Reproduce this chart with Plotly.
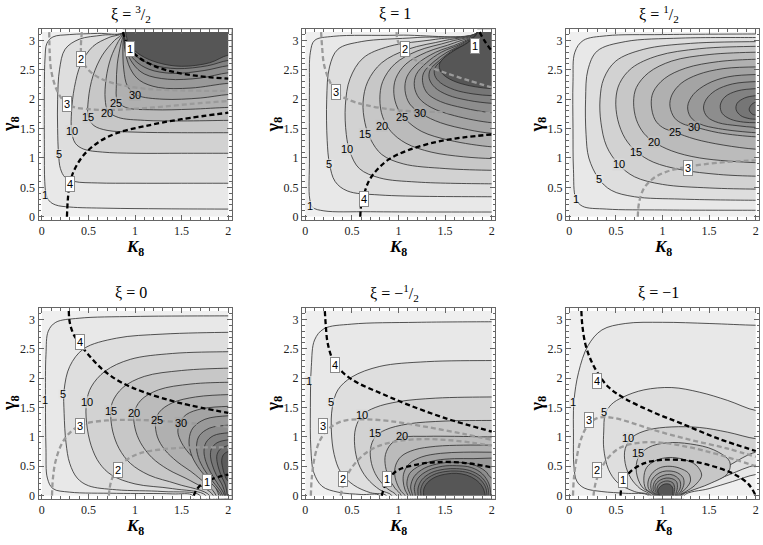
import plotly.graph_objects as go

P = 3.1416

# ---------------- data (K8, gamma8) ----------------
titles = ["ξ = <sup>3</sup>/<sub>2</sub>", "ξ = 1", "ξ = <sup>1</sup>/<sub>2</sub>",
          "ξ = 0", "ξ = −<sup>1</sup>/<sub>2</sub>", "ξ = −1"]
k_ticks = [0, 0.5, 1, 1.5, 2]
k_ticktext = ["0", "0.5", "1", "1.5", "2"]
g_ticks = [0, 0.5, 1, 1.5, 2, 2.5, 3]
g_ticktext = ["0", "0.5", "1", "1.5", "2", "2.5", "3"]

# panel 1, xi = 3/2
p1_contours = {
    1: [(0.88, P), (0.6, 3.12), (0.3, 3.10), (0.12, 3.06), (0.055, 2.95), (0.035, 2.7), (0.028, 2.2), (0.028, 1.2),
        (0.032, 0.6), (0.045, 0.4), (0.08, 0.27), (0.15, 0.2), (0.3, 0.165), (0.7, 0.145), (1.3, 0.135), (2.0, 0.13)],
    5: [(0.88, P), (0.65, 3.09), (0.4, 3.02), (0.25, 2.85), (0.19, 2.5), (0.17, 2.0), (0.17, 1.5), (0.18, 1.07),
        (0.2, 0.82), (0.25, 0.67), (0.35, 0.6), (0.6, 0.575), (1.0, 0.57), (1.5, 0.57), (2.0, 0.57)],
    10: [(0.88, P), (0.72, 3.05), (0.55, 2.9), (0.42, 2.6), (0.35, 2.2), (0.32, 1.8), (0.32, 1.46), (0.36, 1.25),
         (0.45, 1.15), (0.65, 1.1), (1.0, 1.08), (1.5, 1.08), (2.0, 1.08)],
    15: [(0.88, P), (0.78, 3.0), (0.65, 2.75), (0.55, 2.4), (0.5, 2.0), (0.5, 1.69), (0.56, 1.55), (0.7, 1.47),
         (1.0, 1.44), (1.5, 1.43), (2.0, 1.43)],
    20: [(0.88, P), (0.82, 2.98), (0.74, 2.7), (0.69, 2.35), (0.68, 2.0), (0.71, 1.8), (0.82, 1.69), (1.1, 1.64),
         (1.5, 1.63), (2.0, 1.64)],
    25: [(0.88, P), (0.85, 2.95), (0.81, 2.6), (0.8, 2.25), (0.81, 1.98), (0.9, 1.86), (1.2, 1.82), (1.6, 1.83),
         (2.0, 1.86)],
    30: [(0.88, P), (0.87, 2.9), (0.88, 2.5), (0.92, 2.22), (1.02, 2.07), (1.3, 2.0), (1.7, 2.02), (2.0, 2.08)],
    35: [(0.88, P), (0.89, 2.85), (0.95, 2.52), (1.05, 2.32), (1.25, 2.2), (1.6, 2.19), (2.0, 2.27)],
    40: [(0.88, P), (0.9, 2.86), (0.98, 2.6), (1.1, 2.43), (1.35, 2.34), (1.7, 2.36), (2.0, 2.45)],
    45: [(0.88, P), (0.91, 2.88), (1.0, 2.66), (1.15, 2.51), (1.4, 2.44), (1.75, 2.49), (2.0, 2.57)],
    50: [(0.88, P), (0.92, 2.9), (1.03, 2.71), (1.2, 2.58), (1.45, 2.52), (1.78, 2.57), (2.0, 2.66)],
    55: [(0.9, P), (0.94, 2.93), (1.06, 2.75), (1.25, 2.62), (1.5, 2.56), (1.8, 2.62), (2.0, 2.75)],
}
p1_clabels = {1: (0.036, 0.37), 5: (0.18, 1.07), 10: (0.32, 1.46), 15: (0.5, 1.69), 20: (0.70, 1.77),
              25: (0.80, 1.94), 30: (1.0, 2.07)}
p1_dashed = {
    "1": [(0.87, P), (0.9, 3.0), (0.95, 2.85), (1.05, 2.7), (1.2, 2.57), (1.4, 2.47), (1.7, 2.39), (2.0, 2.35)],
    "2": [(0.43, P), (0.42, 2.9), (0.43, 2.68), (0.5, 2.5), (0.62, 2.36), (0.8, 2.26), (1.1, 2.18), (1.5, 2.15),
          (2.0, 2.14)],
    "3": [(0.08, P), (0.085, 2.8), (0.1, 2.5), (0.15, 2.2), (0.22, 2.0), (0.32, 1.88), (0.5, 1.83), (0.8, 1.82),
          (1.2, 1.86), (1.6, 1.92), (2.0, 1.97)],
    "4": [(0.27, 0), (0.28, 0.3), (0.3, 0.56), (0.35, 0.8), (0.45, 1.05), (0.6, 1.26), (0.8, 1.42), (1.1, 1.54),
          (1.5, 1.66), (2.0, 1.77)],
}
p1_dlabels = {"1": (0.95, 2.85), "2": (0.42, 2.68), "3": (0.27, 1.92), "4": (0.3, 0.56)}

# panel 2, xi = 1
p2_contours = {
    1: [(1.85, P), (1.0, 3.09), (0.3, 3.07), (0.1, 3.0), (0.055, 2.8), (0.045, 2.2), (0.045, 1.0), (0.048, 0.3),
        (0.08, 0.16), (0.2, 0.1), (0.7, 0.085), (2.0, 0.08)],
    5: [(1.85, P), (1.2, 3.05), (0.6, 2.98), (0.35, 2.85), (0.26, 2.55), (0.23, 2.0), (0.235, 1.3), (0.26, 0.9),
        (0.32, 0.6), (0.45, 0.44), (0.8, 0.37), (2.0, 0.34)],
    10: [(1.85, P), (1.4, 3.02), (0.9, 2.9), (0.62, 2.7), (0.48, 2.35), (0.43, 1.9), (0.44, 1.4), (0.48, 1.1),
         (0.58, 0.82), (0.8, 0.66), (1.2, 0.59), (2.0, 0.56)],
    15: [(1.85, P), (1.5, 3.0), (1.1, 2.85), (0.82, 2.62), (0.67, 2.3), (0.62, 1.95), (0.64, 1.6), (0.7, 1.32),
         (0.82, 1.06), (1.05, 0.9), (1.5, 0.82), (2.0, 0.79)],
    20: [(1.85, P), (1.55, 2.98), (1.2, 2.82), (0.96, 2.6), (0.83, 2.3), (0.8, 2.0), (0.83, 1.7), (0.92, 1.45),
         (1.08, 1.25), (1.35, 1.1), (1.7, 1.02), (2.0, 0.99)],
    25: [(1.85, P), (1.6, 2.96), (1.3, 2.8), (1.08, 2.6), (0.97, 2.35), (0.95, 2.1), (0.99, 1.85), (1.08, 1.65),
         (1.25, 1.45), (1.55, 1.3), (2.0, 1.19)],
    30: [(1.85, P), (1.65, 2.95), (1.4, 2.8), (1.2, 2.6), (1.09, 2.38), (1.07, 2.15), (1.12, 1.92), (1.25, 1.75),
         (1.45, 1.6), (1.75, 1.48), (2.0, 1.42)],
    35: [(1.85, P), (1.68, 2.95), (1.46, 2.8), (1.3, 2.62), (1.19, 2.42), (1.17, 2.22), (1.22, 2.02), (1.35, 1.86),
         (1.6, 1.72), (2.0, 1.6)],
    40: [(1.85, P), (1.7, 2.95), (1.52, 2.8), (1.38, 2.64), (1.27, 2.45), (1.26, 2.28), (1.31, 2.1), (1.45, 1.96),
         (1.7, 1.85), (2.0, 1.77)],
    45: [(1.85, P), (1.72, 2.95), (1.57, 2.82), (1.44, 2.66), (1.34, 2.5), (1.33, 2.35), (1.39, 2.2), (1.53, 2.07),
         (1.75, 1.98), (2.0, 1.93)],
    50: [(1.85, P), (1.74, 2.96), (1.6, 2.83), (1.48, 2.68), (1.39, 2.53), (1.39, 2.4), (1.45, 2.28), (1.6, 2.16),
         (1.8, 2.09), (2.0, 2.06)],
    55: [(1.85, P), (1.75, 2.97), (1.62, 2.85), (1.5, 2.72), (1.44, 2.6), (1.45, 2.48), (1.52, 2.37), (1.66, 2.27),
         (1.83, 2.21), (2.0, 2.18)],
}
p2_clabels = {1: (0.046, 0.19), 5: (0.257, 0.9), 10: (0.45, 1.15), 15: (0.64, 1.41), 20: (0.82, 1.55),
              25: (1.04, 1.69), 30: (1.23, 1.77)}
p2_dashed = {
    "1": [(1.87, P), (1.92, 3.0), (2.0, 2.82)],
    "2": [(0.98, P), (0.99, 3.0), (1.05, 2.85), (1.15, 2.7), (1.3, 2.57), (1.5, 2.45), (1.75, 2.32), (2.0, 2.2)],
    "3": [(0.17, P), (0.18, 2.9), (0.2, 2.6), (0.25, 2.35), (0.33, 2.12), (0.45, 2.0), (0.65, 1.9), (1.0, 1.81),
          (1.5, 1.78), (2.0, 1.77)],
    "4": [(0.59, 0), (0.6, 0.2), (0.625, 0.35), (0.68, 0.6), (0.77, 0.8), (0.9, 0.98), (1.1, 1.13), (1.4, 1.27),
          (1.7, 1.35), (2.0, 1.4)],
}
p2_dlabels = {"1": (1.82, 2.9), "2": (1.07, 2.85), "3": (0.33, 2.12), "4": (0.625, 0.31)}

# panel 3, xi = 1/2
p3_contours = {
    1: [(2.0, 3.11), (1.0, 3.1), (0.4, 3.08), (0.15, 3.0), (0.06, 2.8), (0.04, 2.3), (0.04, 1.5), (0.045, 0.8),
        (0.07, 0.31), (0.14, 0.18), (0.4, 0.13), (1.0, 0.115), (2.0, 0.11)],
    5: [(2.0, 3.05), (1.2, 3.04), (0.6, 2.98), (0.3, 2.82), (0.2, 2.5), (0.175, 2.0), (0.18, 1.4), (0.21, 1.0),
        (0.315, 0.65), (0.45, 0.45), (0.7, 0.34), (1.2, 0.3), (2.0, 0.28)],
    10: [(2.0, 2.98), (1.3, 2.95), (0.8, 2.85), (0.5, 2.65), (0.37, 2.35), (0.33, 2.0), (0.34, 1.6), (0.4, 1.2),
         (0.53, 0.89), (0.7, 0.68), (1.0, 0.55), (1.5, 0.49), (2.0, 0.47)],
    15: [(2.0, 2.9), (1.4, 2.86), (0.95, 2.74), (0.67, 2.53), (0.54, 2.27), (0.5, 2.0), (0.52, 1.65), (0.6, 1.33),
         (0.72, 1.11), (0.9, 0.93), (1.2, 0.8), (1.6, 0.72), (2.0, 0.69)],
    20: [(2.0, 2.8), (1.5, 2.76), (1.1, 2.65), (0.85, 2.45), (0.72, 2.2), (0.69, 1.95), (0.72, 1.65), (0.8, 1.42),
         (0.91, 1.27), (1.1, 1.12), (1.4, 1.0), (2.0, 0.92)],
    25: [(2.0, 2.68), (1.6, 2.64), (1.25, 2.53), (1.02, 2.35), (0.9, 2.12), (0.88, 1.9), (0.92, 1.65), (1.0, 1.52),
         (1.13, 1.44), (1.35, 1.32), (1.65, 1.22), (2.0, 1.15)],
    30: [(2.0, 2.55), (1.65, 2.52), (1.38, 2.42), (1.2, 2.27), (1.1, 2.07), (1.08, 1.88), (1.13, 1.68), (1.22, 1.58),
         (1.34, 1.53), (1.6, 1.43), (2.0, 1.36)],
    35: [(2.0, 2.42), (1.7, 2.38), (1.48, 2.26), (1.33, 2.08), (1.27, 1.88), (1.3, 1.7), (1.4, 1.58), (1.6, 1.5),
         (2.0, 1.43)],
    40: [(2.0, 2.3), (1.75, 2.26), (1.57, 2.15), (1.47, 2.0), (1.44, 1.85), (1.48, 1.7), (1.6, 1.6), (1.8, 1.55),
         (2.0, 1.52)],
    45: [(2.0, 2.18), (1.8, 2.14), (1.67, 2.04), (1.62, 1.9), (1.64, 1.76), (1.73, 1.66), (1.87, 1.61), (2.0, 1.6)],
    50: [(2.0, 2.06), (1.88, 2.02), (1.8, 1.93), (1.79, 1.82), (1.84, 1.72), (1.93, 1.67), (2.0, 1.66)],
    55: [(2.0, 1.95), (1.95, 1.9), (1.93, 1.82), (1.96, 1.75), (2.0, 1.73)],
}
p3_clabels = {1: (0.07, 0.31), 5: (0.315, 0.65), 10: (0.53, 0.89), 15: (0.72, 1.11), 20: (0.91, 1.27),
              25: (1.13, 1.44), 30: (1.34, 1.53)}
p3_dashed = {
    "3": [(0.735, 0), (0.75, 0.25), (0.8, 0.48), (0.9, 0.65), (1.05, 0.77), (1.27, 0.85), (1.6, 0.92), (2.0, 0.96)],
}
p3_dlabels = {"3": (1.27, 0.83)}

# panel 4, xi = 0
p4_contours = {
    1: [(2.0, 3.06), (1.0, 3.05), (0.4, 3.02), (0.15, 2.95), (0.07, 2.8), (0.045, 2.4), (0.04, 1.62), (0.045, 0.8),
        (0.06, 0.3), (0.12, 0.12), (0.3, 0.06), (0.8, 0.04), (1.4, 0.03), (1.62, 0)],
    5: [(2.0, 2.78), (1.3, 2.75), (0.8, 2.68), (0.45, 2.5), (0.3, 2.2), (0.24, 1.8), (0.24, 1.4), (0.26, 0.9),
        (0.3, 0.55), (0.38, 0.3), (0.5, 0.17), (0.8, 0.1), (1.3, 0.07), (1.7, 0)],
    10: [(2.0, 2.45), (1.4, 2.42), (0.95, 2.32), (0.68, 2.12), (0.53, 1.85), (0.48, 1.59), (0.48, 1.25), (0.53, 0.85),
         (0.62, 0.55), (0.75, 0.35), (1.0, 0.2), (1.4, 0.12), (1.76, 0)],
    15: [(2.0, 2.17), (1.5, 2.13), (1.1, 2.03), (0.87, 1.84), (0.76, 1.6), (0.74, 1.4), (0.76, 1.1), (0.83, 0.8),
         (0.95, 0.55), (1.15, 0.35), (1.45, 0.2), (1.8, 0)],
    20: [(2.0, 1.93), (1.6, 1.9), (1.25, 1.8), (1.06, 1.62), (0.99, 1.4), (1.0, 1.15), (1.06, 0.9), (1.18, 0.65),
         (1.35, 0.45), (1.6, 0.25), (1.84, 0)],
    25: [(2.0, 1.72), (1.65, 1.68), (1.4, 1.58), (1.26, 1.42), (1.22, 1.25), (1.24, 1.0), (1.32, 0.78), (1.45, 0.58),
         (1.65, 0.35), (1.87, 0)],
    30: [(2.0, 1.52), (1.72, 1.48), (1.55, 1.38), (1.48, 1.24), (1.46, 1.08), (1.5, 0.9), (1.58, 0.72), (1.72, 0.5),
         (1.9, 0)],
    35: [(2.0, 1.36), (1.75, 1.3), (1.62, 1.15), (1.58, 0.95), (1.6, 0.72), (1.67, 0.5), (1.78, 0.28), (1.92, 0)],
    40: [(2.0, 1.2), (1.8, 1.15), (1.69, 1.02), (1.66, 0.85), (1.68, 0.65), (1.74, 0.45), (1.83, 0.25), (1.94, 0)],
    45: [(2.0, 1.07), (1.84, 1.02), (1.76, 0.9), (1.74, 0.75), (1.76, 0.58), (1.81, 0.4), (1.88, 0.22), (1.96, 0)],
    50: [(2.0, 0.95), (1.88, 0.9), (1.82, 0.8), (1.81, 0.66), (1.83, 0.52), (1.87, 0.36), (1.93, 0.2), (1.97, 0)],
    55: [(2.0, 0.85), (1.92, 0.8), (1.88, 0.7), (1.88, 0.58), (1.9, 0.45), (1.93, 0.32), (1.97, 0.18), (1.99, 0)],
    60: [(2.0, 0.75), (1.95, 0.7), (1.93, 0.6), (1.94, 0.48), (1.96, 0.36), (2.0, 0.25)],
}
p4_clabels = {1: (0.03, 1.63), 5: (0.23, 1.73), 10: (0.48, 1.59), 15: (0.74, 1.44), 20: (0.99, 1.40),
              25: (1.24, 1.28), 30: (1.49, 1.24)}
p4_dashed = {
    "1": [(1.63, 0), (1.66, 0.1), (1.72, 0.2), (1.82, 0.28), (2.0, 0.36)],
    "2": [(0.72, 0), (0.74, 0.22), (0.8, 0.44), (0.9, 0.6), (1.05, 0.72), (1.3, 0.79), (1.6, 0.82), (2.0, 0.82)],
    "3": [(0.11, 0), (0.12, 0.3), (0.15, 0.6), (0.22, 0.9), (0.32, 1.1), (0.45, 1.22), (0.7, 1.28), (1.0, 1.29),
          (1.4, 1.26), (2.0, 1.17)],
    "4": [(0.29, P), (0.3, 2.95), (0.34, 2.75), (0.41, 2.58), (0.5, 2.4), (0.65, 2.15), (0.85, 1.93), (1.1, 1.76),
          (1.5, 1.57), (2.0, 1.41)],
}
p4_dlabels = {"1": (1.77, 0.23), "2": (0.82, 0.44), "3": (0.405, 1.18), "4": (0.405, 2.62)}

# panel 5, xi = -1/2
p5_contours = {
    1: [(2.0, 2.96), (1.2, 2.95), (0.5, 2.92), (0.2, 2.84), (0.1, 2.65), (0.065, 2.2), (0.055, 1.5), (0.06, 0.8),
        (0.09, 0.4), (0.18, 0.16), (0.35, 0.06), (0.6, 0.02), (0.8, 0)],
    5: [(2.0, 2.3), (1.3, 2.28), (0.8, 2.2), (0.5, 2.02), (0.35, 1.8), (0.29, 1.5), (0.28, 1.1), (0.31, 0.7),
        (0.38, 0.4), (0.52, 0.18), (0.7, 0.05), (0.87, 0)],
    10: [(2.0, 1.68), (1.4, 1.66), (1.0, 1.6), (0.75, 1.5), (0.61, 1.37), (0.54, 1.15), (0.53, 0.85), (0.57, 0.55),
         (0.66, 0.3), (0.8, 0.1), (0.93, 0)],
    15: [(2.0, 1.28), (1.5, 1.27), (1.1, 1.22), (0.86, 1.12), (0.75, 1.0), (0.7, 0.8), (0.71, 0.55), (0.77, 0.32),
         (0.88, 0.12), (0.98, 0)],
    20: [(2.0, 1.0), (1.6, 1.01), (1.3, 1.01), (1.04, 0.99), (0.92, 0.88), (0.86, 0.7), (0.86, 0.5), (0.9, 0.3),
         (0.96, 0.13), (1.03, 0)],
    25: [(2.0, 0.86), (1.7, 0.86), (1.4, 0.84), (1.17, 0.78), (1.03, 0.67), (0.97, 0.52), (0.96, 0.35), (0.99, 0.18),
         (1.03, 0.07), (1.07, 0)],
    30: [(2.0, 0.74), (1.7, 0.74), (1.45, 0.72), (1.25, 0.66), (1.12, 0.55), (1.06, 0.4), (1.05, 0.25), (1.07, 0.1),
         (1.1, 0)],
    35: [(2.0, 0.64), (1.8, 0.63), (1.6, 0.63), (1.4, 0.6), (1.24, 0.52), (1.12, 0.38), (1.09, 0.2), (1.11, 0.08),
         (1.13, 0)],
    40: [(1.15, 0), (1.13, 0.15), (1.17, 0.33), (1.28, 0.47), (1.45, 0.55), (1.62, 0.57), (1.8, 0.53), (1.93, 0.42),
         (2.0, 0.3)],
    45: [(1.18, 0), (1.17, 0.14), (1.21, 0.3), (1.32, 0.43), (1.47, 0.5), (1.62, 0.51), (1.78, 0.48), (1.9, 0.37),
         (1.97, 0.2), (1.99, 0)],
    50: [(1.21, 0), (1.21, 0.13), (1.25, 0.27), (1.35, 0.39), (1.49, 0.45), (1.62, 0.46), (1.76, 0.43), (1.88, 0.33),
         (1.95, 0.18), (1.97, 0)],
    55: [(1.24, 0), (1.24, 0.12), (1.28, 0.25), (1.38, 0.36), (1.5, 0.41), (1.62, 0.42), (1.75, 0.39), (1.86, 0.3),
         (1.93, 0.16), (1.95, 0)],
    60: [(1.27, 0), (1.27, 0.1), (1.31, 0.22), (1.4, 0.32), (1.52, 0.37), (1.62, 0.38), (1.73, 0.35), (1.83, 0.27),
         (1.9, 0.15), (1.93, 0)],
}
p5_clabels = {1: (0.04, 1.96), 5: (0.28, 1.59), 10: (0.61, 1.37), 15: (0.75, 1.06), 20: (1.04, 1.01)}
p5_dashed = {
    "1": [(0.82, 0), (0.85, 0.15), (0.9, 0.3), (1.0, 0.44), (1.2, 0.53), (1.4, 0.57), (1.7, 0.56), (2.0, 0.48)],
    "2": [(0.38, 0), (0.4, 0.15), (0.45, 0.35), (0.55, 0.58), (0.7, 0.78), (0.9, 0.9), (1.2, 0.96), (1.5, 0.95),
          (1.8, 0.9), (2.0, 0.85)],
    "3": [(0.06, 0), (0.07, 0.3), (0.1, 0.65), (0.16, 0.95), (0.26, 1.15), (0.4, 1.27), (0.6, 1.3), (0.9, 1.27),
          (1.3, 1.17), (1.7, 1.05), (2.0, 0.95)],
    "4": [(0.21, P), (0.22, 2.9), (0.24, 2.6), (0.3, 2.3), (0.4, 2.1), (0.55, 1.93), (0.8, 1.75), (1.1, 1.55),
          (1.5, 1.32), (2.0, 1.09)],
}
p5_dlabels = {"1": (0.875, 0.29), "2": (0.41, 0.29), "3": (0.19, 1.18), "4": (0.32, 2.22)}

# panel 6, xi = -1
p6_contours = {
    1: [(2.0, 2.9), (1.5, 2.93), (1.0, 2.95), (0.6, 2.93), (0.35, 2.82), (0.2, 2.55), (0.1, 2.1), (0.05, 1.6),
        (0.045, 1.0), (0.05, 0.5), (0.08, 0.25), (0.16, 0.13), (0.35, 0.07), (0.6, 0.04), (0.85, 0)],
    5: [(2.0, 1.45), (1.7, 1.62), (1.4, 1.76), (1.1, 1.84), (0.8, 1.8), (0.58, 1.68), (0.45, 1.55), (0.385, 1.38),
        (0.37, 1.1), (0.37, 0.8), (0.42, 0.45), (0.52, 0.22), (0.7, 0.07), (0.87, 0)],
    10: [(2.0, 0.97), (1.7, 1.08), (1.4, 1.16), (1.1, 1.17), (0.85, 1.12), (0.68, 1.0), (0.6, 0.8), (0.6, 0.55),
         (0.66, 0.3), (0.76, 0.12), (0.88, 0)],
    15: [(0.9, 0), (0.78, 0.15), (0.72, 0.4), (0.74, 0.65), (0.85, 0.82), (1.05, 0.9), (1.3, 0.88), (1.55, 0.78),
         (1.72, 0.58), (1.7, 0.38), (1.5, 0.2), (1.3, 0.08), (1.19, 0)],
    20: [(0.91, 0), (0.82, 0.12), (0.8, 0.3), (0.83, 0.48), (0.93, 0.6), (1.07, 0.65), (1.22, 0.62), (1.36, 0.52),
         (1.42, 0.35), (1.35, 0.18), (1.25, 0.07), (1.18, 0)],
    25: [(0.92, 0), (0.85, 0.12), (0.85, 0.27), (0.9, 0.4), (0.98, 0.48), (1.08, 0.5), (1.18, 0.47), (1.28, 0.38),
         (1.3, 0.25), (1.25, 0.12), (1.17, 0)],
    30: [(0.93, 0), (0.88, 0.1), (0.88, 0.24), (0.93, 0.35), (1.0, 0.41), (1.08, 0.42), (1.16, 0.39), (1.22, 0.31),
         (1.23, 0.2), (1.2, 0.08), (1.16, 0)],
    35: [(0.94, 0), (0.9, 0.1), (0.91, 0.22), (0.95, 0.3), (1.02, 0.35), (1.09, 0.36), (1.15, 0.32), (1.19, 0.24),
         (1.19, 0.13), (1.15, 0)],
    40: [(0.95, 0), (0.92, 0.1), (0.93, 0.2), (0.98, 0.27), (1.04, 0.3), (1.1, 0.29), (1.15, 0.24), (1.16, 0.14),
         (1.14, 0)],
    45: [(0.96, 0), (0.94, 0.1), (0.96, 0.19), (1.01, 0.24), (1.06, 0.25), (1.11, 0.22), (1.13, 0.14), (1.12, 0)],
    50: [(0.97, 0), (0.95, 0.08), (0.98, 0.16), (1.03, 0.2), (1.08, 0.19), (1.11, 0.13), (1.11, 0)],
}
# second (lower right) branch of the same contour lines
p6_lower = {
    1: [(1.23, 0), (1.5, 0.12), (1.75, 0.24), (2.0, 0.36)],
    5: [(1.21, 0), (1.45, 0.18), (1.72, 0.36), (2.0, 0.52)],
    10: [(1.2, 0), (1.45, 0.27), (1.72, 0.52), (2.0, 0.74)],
}
p6_clabels = {1: (0.045, 1.59), 5: (0.377, 1.42), 10: (0.63, 0.98), 15: (0.74, 0.72)}
p6_dashed = {
    "1": [(0.55, 0), (0.57, 0.2), (0.65, 0.4), (0.8, 0.55), (1.0, 0.61), (1.25, 0.6), (1.5, 0.52), (1.75, 0.38),
          (1.92, 0.2), (2.0, 0.0)],
    "2": [(0.26, 0), (0.28, 0.2), (0.33, 0.42), (0.42, 0.65), (0.55, 0.82), (0.75, 0.9), (1.0, 0.9), (1.3, 0.82),
          (1.6, 0.7), (2.0, 0.5)],
    "3": [(0.04, 0), (0.05, 0.3), (0.08, 0.65), (0.13, 0.98), (0.2, 1.2), (0.3, 1.32), (0.45, 1.33), (0.65, 1.25),
          (0.9, 1.12), (1.3, 0.95), (1.7, 0.8), (2.0, 0.66)],
    "4": [(0.13, P), (0.14, 2.9), (0.17, 2.6), (0.22, 2.35), (0.3, 2.1), (0.42, 1.85), (0.6, 1.65), (0.9, 1.42),
          (1.2, 1.23), (1.6, 0.97), (2.0, 0.76)],
}
p6_dlabels = {"1": (0.575, 0.27), "2": (0.3, 0.43), "3": (0.215, 1.28), "4": (0.3, 1.96)}

panels = [
    (p1_contours, {}, p1_clabels, p1_dashed, p1_dlabels),
    (p2_contours, {}, p2_clabels, p2_dashed, p2_dlabels),
    (p3_contours, {}, p3_clabels, p3_dashed, p3_dlabels),
    (p4_contours, {}, p4_clabels, p4_dashed, p4_dlabels),
    (p5_contours, {}, p5_clabels, p5_dashed, p5_dlabels),
    (p6_contours, p6_lower, p6_clabels, p6_dashed, p6_dlabels),
]
# grey level of the innermost (darkest) band in each panel
darkest = [86, 86, 110, 92, 86, 86]

# ---------------- helpers ----------------
W, H = 763, 545
col_px = [(38.5, 231.5), (302, 495), (566, 759)]
row_px = [(29.5, 221.3), (310.5, 502.3)]
XR = [-0.035, 2.035]
YR = [-0.05, 3.19]
OUT = {"l": -0.2, "r": 2.2, "b": -0.25, "t": 3.45}


def side(p):
    x, y = p
    if x <= 1e-6:
        return "l"
    if x >= 2 - 1e-6:
        return "r"
    if y <= 1e-6:
        return "b"
    if y >= P - 1e-4:
        return "t"
    return None


def push_out(p):
    s = side(p)
    if s in ("l", "r"):
        return (OUT[s], p[1])
    return (p[0], OUT[s])


def corner(s1, s2):
    h = s1 if s1 in "lr" else s2
    v = s1 if s1 in "bt" else s2
    return (OUT[h], OUT[v])


def region_path(branches):
    pts = []
    for i, br in enumerate(branches):
        pts += [push_out(br[0])] + list(br) + [push_out(br[-1])]
        nxt = branches[(i + 1) % len(branches)][0]
        s1, s2 = side(br[-1]), side(nxt)
        if s1 != s2:
            pts.append(corner(s1, s2))
    pts.append(pts[0])
    return [p[0] for p in pts], [p[1] for p in pts]


def grey(g):
    g = int(round(g))
    return f"rgb({g},{g},{g})"


def shade(v):
    return grey(max(84, 239 - 2.3 * v))


fig = go.Figure()
annotations = []
layout = {}

for i, (contours, lower, clabels, dashed, dlabels) in enumerate(panels):
    n = i + 1
    xa, ya = ("x", "y") if n == 1 else (f"x{n}", f"y{n}")
    levels = sorted(contours)

    fig.add_trace(go.Scatter(x=[0, 2, 2, 0, 0], y=[0, 0, P, P, 0], xaxis=xa, yaxis=ya, mode="lines",
                             fill="toself", fillcolor=shade(0), line=dict(width=0), hoverinfo="skip"))
    for j, lev in enumerate(levels):
        if j + 1 < len(levels):
            fc = shade((lev + levels[j + 1]) / 2)
        else:
            fc = grey(darkest[i])
        branches = [contours[lev]] + ([lower[lev]] if lev in lower else [])
        xs, ys = region_path(branches)
        fig.add_trace(go.Scatter(x=xs, y=ys, xaxis=xa, yaxis=ya, mode="lines", fill="toself", fillcolor=fc,
                                 line=dict(color="#2b2b2b", width=0.8, shape="spline", smoothing=1.0),
                                 hoverinfo="skip"))
    # white margin between shaded area and frame
    for rx, ry in [([-0.5, 0, 0, -0.5], [-0.5, -0.5, 3.8, 3.8]), ([2, 2.6, 2.6, 2], [-0.5, -0.5, 3.8, 3.8]),
                   ([-0.5, 2.6, 2.6, -0.5], [-0.5, -0.5, 0, 0]), ([-0.5, 2.6, 2.6, -0.5], [P, P, 3.8, 3.8])]:
        fig.add_trace(go.Scatter(x=rx, y=ry, xaxis=xa, yaxis=ya, mode="lines", fill="toself",
                                 fillcolor="white", line=dict(width=0), hoverinfo="skip"))
    # small patches that break the contour line under each label
    labs = sorted(clabels.items())
    fig.add_trace(go.Scatter(x=[v[1][0] for v in labs], y=[v[1][1] for v in labs], xaxis=xa, yaxis=ya,
                             mode="markers", hoverinfo="skip",
                             marker=dict(symbol="square", size=[9 if lev < 10 else 12 for lev, _ in labs],
                                         color=[shade(lev) for lev, _ in labs], line=dict(width=0))))
    for name, pts in dashed.items():
        col = "#000000" if name in ("1", "4") else "#9a9a9a"
        fig.add_trace(go.Scatter(x=[p[0] for p in pts], y=[p[1] for p in pts], xaxis=xa, yaxis=ya, mode="lines",
                                 line=dict(color=col, width=2.3, dash="5px,3px", shape="spline"),
                                 hoverinfo="skip"))
        lx, ly = dlabels[name]
        annotations.append(dict(x=lx, y=ly, xref=xa, yref=ya, text=name, showarrow=False,
                                font=dict(family="Liberation Sans", size=11, color="black"),
                                bgcolor="white", bordercolor="#8a8a8a", borderwidth=1, borderpad=1))
    for lev, (lx, ly) in clabels.items():
        annotations.append(dict(x=lx, y=ly, xref=xa, yref=ya, text=str(lev), showarrow=False, opacity=0.99,
                                font=dict(family="Liberation Sans", size=11, color="black")))

    c0, c1 = col_px[i % 3]
    r0, r1 = row_px[i // 3]
    axis_common = dict(showline=True, linecolor="#666", linewidth=1, mirror="ticks", ticks="inside",
                       ticklen=5, tickwidth=1, tickcolor="#666", showgrid=False, zeroline=False,
                       ticklabeloverflow="allow",
                       tickfont=dict(family="Liberation Serif", size=12, color="#222"))
    layout["xaxis" if n == 1 else f"xaxis{n}"] = dict(
        domain=[c0 / W, c1 / W], range=XR, anchor=ya, tickvals=k_ticks, ticktext=k_ticktext,
        minor=dict(tickvals=[k / 10 for k in range(21)], ticks="inside", ticklen=2.5, tickcolor="#666"),
        **axis_common)
    layout["yaxis" if n == 1 else f"yaxis{n}"] = dict(
        domain=[1 - r1 / H, 1 - r0 / H], range=YR, anchor=xa, tickvals=g_ticks, ticktext=g_ticktext,
        minor=dict(tickvals=[k / 10 for k in range(32)], ticks="inside", ticklen=2.5, tickcolor="#666"),
        **axis_common)

    cx = (c0 + c1) / 2
    annotations.append(dict(x=(cx - 4) / W, y=1 - (r0 - 15.5) / H, xref="paper", yref="paper",
                            text=titles[i], showarrow=False, xanchor="center", yanchor="middle",
                            font=dict(family="Liberation Serif", size=16, color="black")))
    annotations.append(dict(x=cx / W, y=1 - (r1 + 29) / H, xref="paper", yref="paper",
                            text="<b><i>K</i><sub>8</sub></b>", showarrow=False, xanchor="center",
                            yanchor="middle", font=dict(family="Liberation Serif", size=17, color="black")))
    annotations.append(dict(x=(c0 - 28) / W, y=1 - ((r0 + r1) / 2) / H, xref="paper", yref="paper",
                            text="<b>γ<sub>8</sub></b>", showarrow=False, textangle=-90, xanchor="center",
                            yanchor="middle", font=dict(family="Liberation Serif", size=18, color="black")))

fig.update_layout(width=W, height=H, margin=dict(l=0, r=0, t=0, b=0), showlegend=False,
                  paper_bgcolor="white", plot_bgcolor="white", annotations=annotations, **layout)
fig.write_html("out.html", config={"displayModeBar": False},
               post_script="document.body.style.margin='0px';")
